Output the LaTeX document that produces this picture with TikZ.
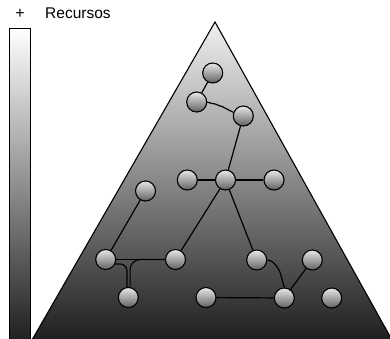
\documentclass[tikz,border=0pt]{standalone}
\usepackage{fontspec}
\setmainfont{Liberation Sans}
\usetikzlibrary{calc}

\begin{document}
\begin{tikzpicture}[x=1pt,y=-1pt,
		ball/.style={circle,draw,line width=1.1pt,minimum size=20pt,inner sep=0pt,
			top color=gray!18,bottom color=black!62},
		link/.style={line width=1.2pt}]
		\useasboundingbox (0,0) rectangle (390,338);
		
		\draw[line width=1.1pt,top color=gray!12,bottom color=black!88]
			(215,22) -- (392,340) -- (32,340) -- cycle;
		\draw[line width=1pt,top color=white,bottom color=black!88]
			(9,28) rectangle (30,341);
		
		\node[inner sep=0pt] (plus) at (20,13.5) {\fontsize{16pt}{18pt}\selectfont +};
		\node[anchor=west,inner sep=0pt] (rec) at (45,13) {\fontsize{15.5pt}{18pt}\selectfont Recursos};
		
		\node[ball] (n1) at (212.7,73) {};
		\node[ball] (n2) at (196.7,102) {};
		\node[ball] (n3) at (243.3,116) {};
		\node[ball] (n4) at (187.3,180) {};
		\node[ball] (n5) at (225.5,180) {};
		\node[ball] (n6) at (274,180) {};
		\node[ball] (n7) at (145.5,191) {};
		\node[ball] (n8) at (105.7,259.5) {};
		\node[ball] (n9) at (175.5,259.5) {};
		\node[ball] (n10) at (256.7,260) {};
		\node[ball] (n11) at (312.3,260) {};
		\node[ball] (n12) at (128.3,297.5) {};
		\node[ball] (n13) at (206,297.5) {};
		\node[ball] (n14) at (284.3,298) {};
		\node[ball] (n15) at (331.7,298) {};
		
		\draw[link] (n1) -- (n2);
		\draw[link] (n2.east) -- (212,103.5) to[out=0,in=170] (222,106.5) -- (n3.160);
		\draw[link] (n3) -- (n5);
		\draw[link] (n4) -- (n5);
		\draw[link] (n5) -- (n6);
		\draw[link] (n5) -- (n9);
		\draw[link] (n5) -- (n10);
		\draw[link] (n7) -- (n8);
		\draw[link] (n8) -- (n9);
		\draw[link,rounded corners=7pt] (n8.-25) -| (n12.97);
		\draw[link,rounded corners=10pt] (n9.west) -| (n12.80);
		\draw[link,rounded corners=4pt] (n10.east) -- (272,260.5) -- (279.5,270) -- (n14.north);
		\draw[link] (n11) -- (n14);
		\draw[link] (n13) -- (n14);
	\end{tikzpicture}
\end{document}
